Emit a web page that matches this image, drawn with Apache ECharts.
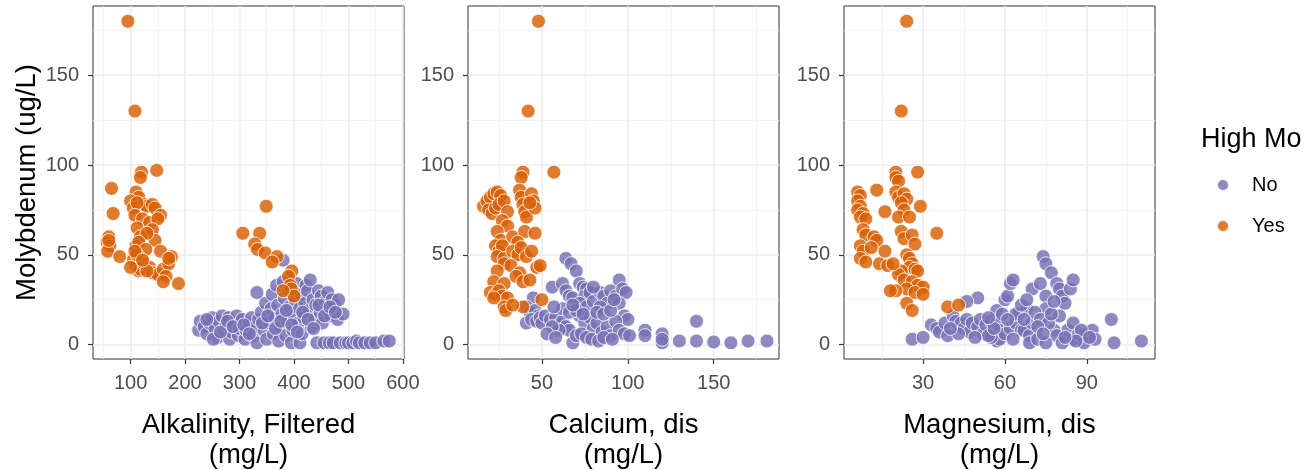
<!DOCTYPE html>
<html>
<head>
<meta charset="utf-8">
<script src="https://cdn.jsdelivr.net/npm/echarts@6/dist/echarts.min.js"></script>
<style>html,body{margin:0;padding:0;background:#fff}#c{width:1310px;height:470px}</style>
</head>
<body>
<div id="c"></div>
<script>
// ---- Data ----
const yTicks = [0, 50, 100, 150];
const alkTicks = [100, 200, 300, 400, 500, 600];
const caTicks = [50, 100, 150];
const mgTicks = [30, 60, 90];
const panelTitles = ['Alkalinity, Filtered\n(mg/L)', 'Calcium, dis\n(mg/L)', 'Magnesium, dis\n(mg/L)'];
const groups = ['No', 'Yes'];

// Panel 1: Alkalinity vs Molybdenum
const alkYes = [[95,180],[108,130],
 [148,97],[120,96],[118,93],[65,87],[110,85],[115,82],[100,80],[125,78],[105,76],[130,77],[140,78],[145,76],[112,79],[155,72],[108,72],[122,70],[135,68],[150,70],[68,73],[112,65],[140,64],[118,60],[145,58],[130,62],
 [60,60],[57,57],[62,55],[58,52],[60,58],[110,55],[115,57],[128,53],[155,52],[80,49],[105,47],[110,44],[115,41],[118,42],[125,45],[135,43],[140,40],[150,39],[160,42],[170,45],[175,49],[165,38],[160,35],[188,34],[130,41],[100,43],[112,50],[170,48],[108,52],[122,47],
 [349,77],[306,62],[337,62],[328,56],[333,53],[347,51],[369,49],[360,46],[396,41],[390,38],[393,33],[395,31],[400,27],[380,30]];
const alkNo = [[225,8],[228,13],[235,10],[240,6],[245,12],[250,15],[255,9],[260,4],[262,13],[268,16],[272,8],[275,11],[280,15],[282,3],[285,7],[290,12],[295,16],[298,5],[300,9],[305,14],[310,3],[312,8],[318,12],[322,15],[325,5],[330,10],[332,1],[335,14],[332,29],[340,18],[345,8],[348,23],[350,3],[355,12],[358,20],[360,28],[362,6],[365,15],[368,33],[370,22],[372,2],[375,10],[378,17],[380,47],[380,35],[382,26],[385,5],[388,13],[390,30],[392,21],[395,1],[398,8],[400,16],[402,25],[405,34],[408,12],[410,20],[411,1],[412,28],[415,6],[418,15],[420,23],[422,33],[425,30],[428,19],[430,36],[432,10],[435,25],[438,14],[440,22],[442,1],[445,30],[448,18],[450,27],[452,12],[455,1],[458,24],[460,20],[462,29],[465,1],[468,16],[470,25],[472,1],[475,22],[480,14],[482,25],[485,1],[490,17],[495,1],[500,1],[508,1],[515,2],[520,1],[530,1],[540,1],[550,1],[565,2],[575,2],
 [240,14],[252,3],[265,7],[278,13],[288,10],[308,11],[318,6],[342,12],[352,16],[366,9],[376,13],[386,19],[396,11],[406,7],[416,18],[426,14],[436,9],[446,22],[456,16],[466,21],[476,18]];

// Panel 2: Calcium vs Molybdenum
const caYes = [[48,180],[42,130],[57,96],[39,96],[38,93],[37,86],
 [16,77],[18,80],[20,82],[22,84],[24,85],[26,83],[19,75],[21,73],[23,76],[25,78],[28,80],[30,74],
 [38,82],[39,78],[40,74],[41,71],[44,84],[45,80],[46,76],[43,79],
 [27,69],[30,66],[24,63],[26,58],[33,60],[40,63],[46,62],[36,57],
 [23,55],[25,52],[27,55],[24,49],[28,48],[33,52],[36,50],[38,54],[41,49],[44,52],[47,43],[49,44],
 [28,45],[32,44],[37,40],[24,41],[35,38],[39,35],[22,35],[28,34],[43,36],
 [20,29],[23,28],[25,30],[27,27],[30,26],[28,21],[29,19],[39,21],[50,25],[33,22],[22,26]];
const caNo = [[64,48],[67,45],[70,41],[56,32],[62,34],[64,30],[66,27],[68,26],[45,26],
 [41,21],[43,18],[46,19],[48,16],[41,12],[44,14],[47,13],[49,15],[50,12],[52,16],[55,14],[58,15],[60,11],[62,13],[64,10],[66,8],[68,1],[70,5],
 [72,34],[74,32],[76,31],[75,27],[78,29],[72,23],[76,21],[80,24],[84,29],[86,27],[88,23],[84,21],[90,30],[93,27],[95,36],[97,31],[99,29],[95,23],[98,16],[100,14],
 [72,16],[75,12],[78,15],[80,9],[82,12],[85,7],[88,10],[90,5],[93,13],[95,8],[98,6],[101,5],[73,6],[76,4],[79,3],[83,2],[86,4],[91,3],[60,8],[56,10],[53,6],[58,4],
 [62,20],[66,18],[70,19],[74,17],[82,18],[86,17],[90,19],[92,25],[80,32],[68,22],[57,21],
 [110,8],[110,5],[120,6],[120,1],[120,3],[130,2],[140,13],[140,2],[150,1.5],[160,1],[170,2],[181,2]];

// Panel 3: Magnesium vs Molybdenum
const mgYes = [[24,180],[22,130],[28,96],[20,96],[20,93],[21,91],[13,86],
 [6,85],[7,83],[6,80],[7,77],[6,75],[8,73],[7,71],[9,70],
 [20,85],[21,82],[23,84],[24,81],[22,79],[23,75],[21,71],[25,71],[29,77],[16,74],[35,62],
 [8,64],[9,61],[12,60],[13,58],[22,63],[23,59],[26,61],[27,56],
 [7,55],[8,52],[11,54],[7,48],[9,46],[14,45],[17,44],
 [24,50],[25,48],[26,45],[25,43],[27,42],[28,41],[22,41],[21,39],[23,36],[26,35],[28,33],[30,32],[24,31],[20,30],[18,30],[27,29],[30,28],
 [24,23],[26,19],[39,21],[43,22],[16,52],[19,45]];
const mgNo = [[26,3],[30,4],[33,11],[35,9],[36,7],[38,12],[39,5],[41,16],[42,13],[44,12],[45,9],[46,14],[47,7],[48,12],[50,10],[51,14],[52,6],[50,26],[53,11],[55,13],
 [57,12],[58,8],[57,19],[59,17],[60,25],[61,27],[62,34],[63,36],[57,2],[58,3],[55,4],[54,5],[60,6],[62,9],[64,12],[65,17],[66,8],
 [64,17],[67,8],[69,5],[70,12],[69,1],[72,3],[68,20],[70,31],[73,34],[74,49],[75,45],[77,40],[79,34],[80,31],[81,27],[82,23],[80,16],[84,31],[85,36],[83,8],[85,12],[75,27],[75,20],[78,8],[79,5],[81,1],[75,1],[85,3],[87,6],[90,6],[92,8],[89,1],[93,3],[99,14],[100,1],[110,2],
 [66,22],[68,25],[71,18],[73,14],[76,12],[77,17],[78,24],[72,10],[74,6],[67,14],[63,3],[61,14],[56,9],[54,15],[49,4],[43,6],[40,9],[88,8],[91,4],[86,2],[82,4],[46,24]];

// ---- Chart ----
const FONT = 'Liberation Sans, Arial, Helvetica, sans-serif';
const colors = { No: '#7570B3', Yes: '#D95F02' };
const panels = [
  { left: 93,  xmin: 31, xmax: 602, step: 100, ticks: alkTicks, no: alkNo, yes: alkYes },
  { left: 468, xmin: 7,  xmax: 188, step: 50,  ticks: caTicks,  no: caNo,  yes: caYes },
  { left: 844, xmin: 1,  xmax: 115, step: 30,  ticks: mgTicks,  no: mgNo,  yes: mgYes }
];
const ymin = -8, ymax = 188.5;

const grid = [], xAxis = [], yAxis = [], series = [];
const gridLine = { show: true, lineStyle: { color: '#EBEBEB', width: 1.5 } };
const minorLine = { show: true, lineStyle: { color: '#F0F0F0', width: 0.9 } };
panels.forEach((p, i) => {
  grid.push({ left: p.left, top: 6, width: 311, height: 353, outerBoundsMode: 'none', containLabel: false,
    show: true, borderColor: '#333333', borderWidth: 1, backgroundColor: '#fff' });
  xAxis.push({
    type: 'value', gridIndex: i, min: p.xmin, max: p.xmax,
    splitNumber: Math.round((p.xmax - p.xmin) / p.step), minInterval: p.step, maxInterval: p.step,
    axisLine: { show: false, onZero: false },
    axisTick: { show: true, length: 5, customValues: p.ticks, lineStyle: { color: '#333333', width: 1.2 } },
    axisLabel: { customValues: p.ticks, margin: 14, fontSize: 20, color: '#4D4D4D', fontFamily: FONT },
    splitLine: gridLine,
    minorTick: { show: false, splitNumber: 2 },
    minorSplitLine: minorLine,
    name: panelTitles[i], nameLocation: 'middle', nameGap: 51,
    nameTextStyle: { fontSize: 27.5, color: '#000', fontFamily: FONT, lineHeight: 30 }
  });
  yAxis.push({
    type: 'value', gridIndex: i, min: ymin, max: ymax,
    splitNumber: 4, minInterval: 50, maxInterval: 50,
    axisLine: { show: false, onZero: false },
    axisTick: { show: true, length: 5, customValues: yTicks, lineStyle: { color: '#333333', width: 1.2 } },
    axisLabel: { customValues: yTicks, margin: 14, fontSize: 20, color: '#4D4D4D', fontFamily: FONT },
    splitLine: gridLine,
    minorTick: { show: false, splitNumber: 2 },
    minorSplitLine: minorLine,
    name: i === 0 ? 'Molybdenum (ug/L)' : '', nameLocation: 'middle', nameGap: 51,
    nameTextStyle: { fontSize: 27.5, color: '#000', fontFamily: FONT }
  });
  [['No', p.no], ['Yes', p.yes]].forEach(([g, d]) => {
    series.push({
      type: 'scatter', name: g, xAxisIndex: i, yAxisIndex: i, data: d,
      symbol: 'circle', symbolSize: 14,
      itemStyle: { color: colors[g], opacity: 0.82, borderColor: '#ffffff', borderWidth: 1 },
      emphasis: { disabled: true }, silent: true
    });
  });
});

const chart = echarts.init(document.getElementById('c'), null, { renderer: 'canvas' });
chart.setOption({
  animation: false,
  textStyle: { fontFamily: FONT },
  title: { text: 'High Mo', left: 1196, top: 121, textStyle: { fontSize: 27, fontWeight: 'normal', color: '#000', fontFamily: FONT } },
  legend: {
    data: groups, orient: 'vertical', left: 1211, top: 170, itemWidth: 12, itemHeight: 12, itemGap: 21,
    icon: 'circle', selectedMode: false,
    textStyle: { fontSize: 20, color: '#000', fontFamily: FONT, padding: [0, 0, 0, 18] }
  },
  grid, xAxis, yAxis, series
});
</script>
</body>
</html>
